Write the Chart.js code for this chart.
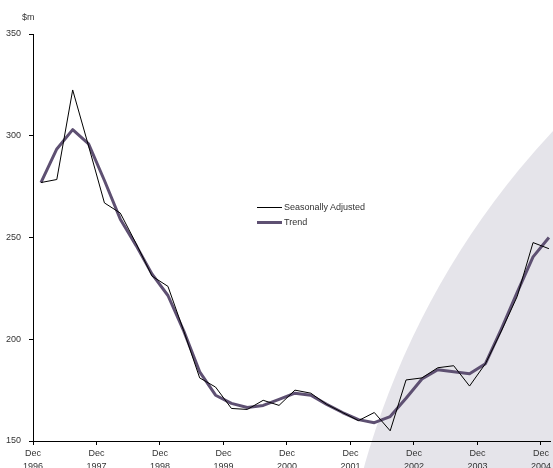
<!DOCTYPE html>
<html>
<head>
<meta charset="utf-8">
<title>Seasonally adjusted and trend</title>
<script src="https://cdn.jsdelivr.net/npm/chart.js@4.4.0/dist/chart.umd.min.js"></script>
<style>
  html, body { margin: 0; padding: 0; background: #fff; overflow: hidden; }
  #wrap { position: relative; width: 553px; height: 474px; }
  .lbl { position: absolute; font-family: 'Liberation Sans', Arial, sans-serif; font-size: 9px; color: #333; white-space: nowrap; }
  .key { position: absolute; left: 257px; width: 25px; }
</style>
</head>
<body>
<div id="wrap">
  <canvas id="chart"></canvas>
  <div class="lbl" style="left:22px;top:12px">$m</div>
  <div class="key" style="top:207px;height:1px;background:#000"></div>
  <div class="lbl" style="left:284px;top:202px">Seasonally Adjusted</div>
  <div class="key" style="top:221px;height:3px;background:#5e5072"></div>
  <div class="lbl" style="left:284px;top:217px">Trend</div>
</div>
<script>
// quarterly values, Dec 1996 to Dec 2004 ($m)
const seasAdj = [277, 278.5, 322.5, 295, 267, 262, 247, 231, 226, 204, 181, 176.5, 166, 165.5, 170, 167.5,
                 175, 173.5, 168, 164, 160, 164, 155, 180, 181, 186, 187, 177, 188, 204, 221, 247.5, 244.5];
const trend   = [277, 293.5, 303, 296, 278, 259, 246, 232, 221.5, 204, 184, 172.5, 168.5, 166.5, 167.5, 170.5,
                 173.5, 172.5, 168, 164, 160.5, 159, 162, 171, 180.5, 185, 184, 183, 188, 205, 223, 240.5, 250];

// one label per year, every fourth quarter
const tickLabels = [['Dec', '1996'], ['Dec', '1997'], ['Dec', '1998'], ['Dec', '1999'], ['Dec', '2000'],
                    ['Dec', '2001'], ['Dec', '2002'], ['Dec', '2003'], ['Dec', '2004']];
const yTicks = [150, 200, 250, 300, 350];

const tickFont = { family: "'Liberation Sans', Arial, sans-serif", size: 9, lineHeight: 1.45 };

// light background disc in the lower right
const shade = {
    id: 'shade',
    beforeDraw(chart) {
        const c = chart.ctx;
        c.save();
        c.fillStyle = '#e5e4ea';
        c.beginPath();
        c.arc(1147, 686, 813, 0, Math.PI * 2);
        c.fill();
        c.restore();
    }
};

new Chart(document.getElementById('chart'), {
    type: 'line',
    data: {
        datasets: [
            { label: 'Seasonally Adjusted', data: seasAdj.map((v, i) => ({ x: i + 0.5, y: v })),
              borderColor: '#000', borderWidth: 1, pointRadius: 0, tension: 0 },
            { label: 'Trend', data: trend.map((v, i) => ({ x: i + 0.5, y: v })),
              borderColor: '#5e5072', borderWidth: 3, pointRadius: 0, tension: 0, borderJoinStyle: 'round' }
        ]
    },
    options: {
        responsive: true,
        maintainAspectRatio: false,
        animation: false,
        layout: { padding: { top: 34, right: 0, left: 0, bottom: 0 } },
        plugins: { legend: { display: false }, tooltip: { enabled: false } },
        scales: {
            x: {
                type: 'linear', min: 0, max: 32.6,
                afterBuildTicks: s => { s.ticks = tickLabels.map((_, i) => ({ value: i * 4 })); },
                afterFit: s => { s.height = 33; },
                ticks: { callback: v => tickLabels[Math.round(v / 4)], font: tickFont, color: '#333',
                         padding: 2, maxRotation: 0, autoSkip: false },
                grid: { drawOnChartArea: false, tickLength: 4, color: '#000' },
                border: { color: '#000', width: 1 }
            },
            y: {
                min: 150, max: 350,
                afterBuildTicks: s => { s.ticks = yTicks.map(v => ({ value: v })); },
                afterFit: s => { s.width = 33; },
                ticks: { font: tickFont, color: '#333', padding: 8 },
                grid: { drawOnChartArea: false, tickLength: 4, color: '#000' },
                border: { color: '#000', width: 1 }
            }
        }
    },
    plugins: [shade]
});
</script>
</body>
</html>
